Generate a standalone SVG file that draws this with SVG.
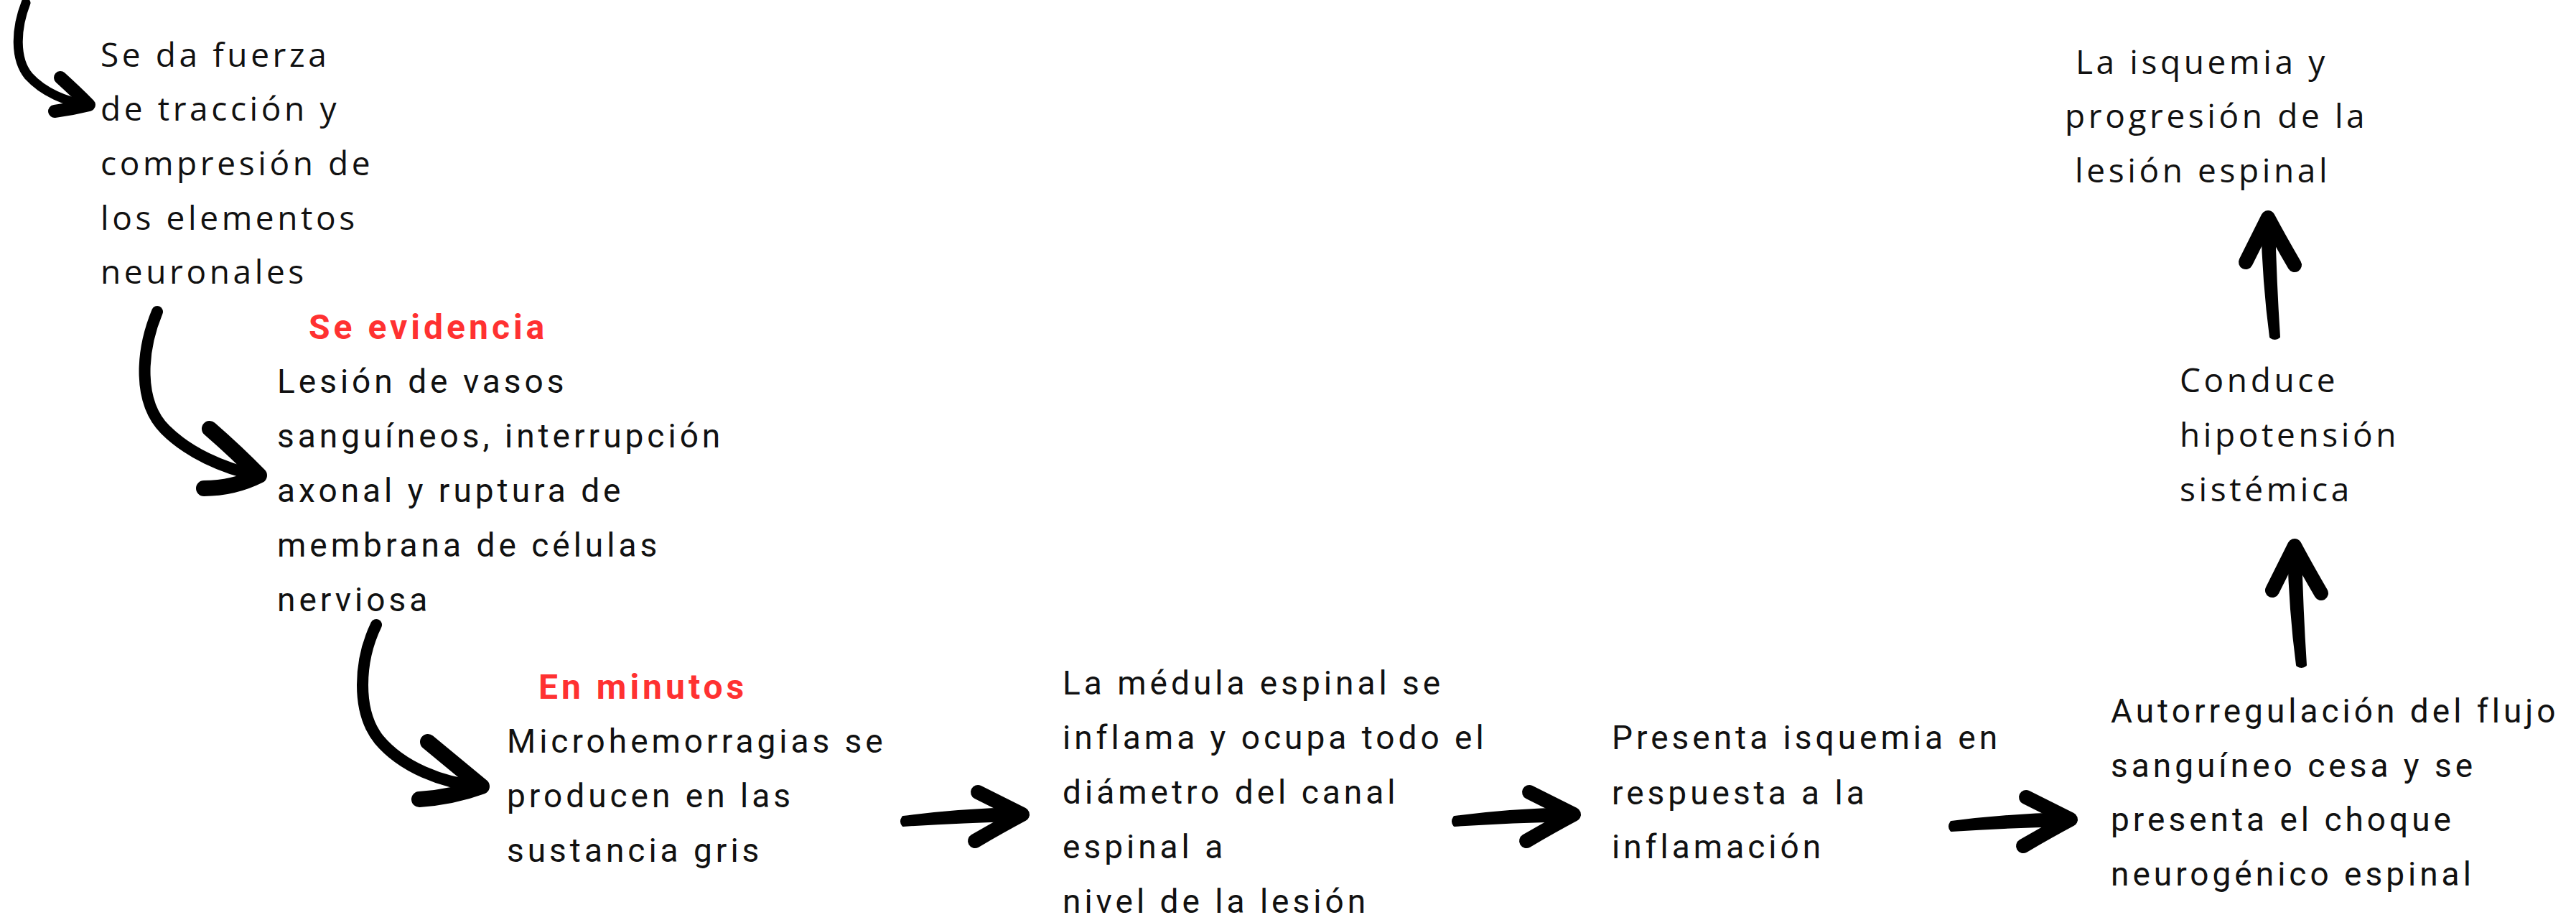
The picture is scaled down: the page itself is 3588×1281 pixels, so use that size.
<svg xmlns="http://www.w3.org/2000/svg" width="3588" height="1281" viewBox="0 0 3588 1281">
<style>
  .geo{font-family:"Open Sans","Liberation Sans",sans-serif;font-size:46px;letter-spacing:4.6px;fill:#111}
  .nar{font-family:Roboto,"Liberation Sans",sans-serif;font-size:46px;letter-spacing:5px;fill:#111}
  .red{font-family:Roboto,"Liberation Sans",sans-serif;font-size:48px;font-weight:bold;letter-spacing:5px;fill:#ff3131}
  .stroke{fill:none;stroke:#000;stroke-linecap:round;stroke-linejoin:round}
  .fill{fill:#000;stroke:#000;stroke-width:4;stroke-linejoin:round}
</style>
<defs>
  <g id="arr">
    <path class="fill" d="M -166 4 Q -90 -6 -6 -8 L -6 8 Q -90 10 -166 15 Q -170 10 -166 4 Z"/>
    <path class="stroke" d="M -62 -31 Q -28 -14 0 0 Q -30 16 -66 37" stroke-width="20"/>
  </g>
</defs>
<rect width="3588" height="1281" fill="#fff"/>
<g id="connectors">
  <path class="stroke" d="M 36 4 C 22 40, 20 82, 40 106 C 60 128, 92 142, 122 146" stroke-width="13"/>
  <path class="stroke" d="M 84 108 Q 106 128 124 146 Q 100 152 76 155" stroke-width="18"/>
  <path class="stroke" d="M 219 434 C 196 490, 192 560, 230 598 C 262 630, 310 652, 358 662" stroke-width="16"/>
  <path class="stroke" d="M 292 597 Q 330 630 361 662 Q 325 680 284 680" stroke-width="22"/>
  <path class="stroke" d="M 524 870 C 500 920, 496 990, 528 1030 C 560 1068, 615 1090, 668 1095" stroke-width="16"/>
  <path class="stroke" d="M 596 1033 Q 636 1066 671 1095 Q 630 1110 584 1113" stroke-width="22"/>
  <use href="#arr" transform="translate(1424,1134)"/>
  <use href="#arr" transform="translate(2192,1134)"/>
  <use href="#arr" transform="translate(2884,1141)"/>
  <use href="#arr" transform="translate(3196,760) rotate(-90)"/>
  <use href="#arr" transform="translate(3159,303) rotate(-90)"/>
</g>
<g id="n1"><text class="geo">
  <tspan x="140" y="93">Se da fuerza</tspan>
  <tspan x="140" y="168">de tracción y</tspan>
  <tspan x="140" y="244">compresión de</tspan>
  <tspan x="140" y="320">los elementos</tspan>
  <tspan x="140" y="395">neuronales</tspan></text></g>
<g id="n2">
  <text class="red" x="430" y="472">Se evidencia</text>
  <text class="nar">
  <tspan x="386" y="547">Lesión de vasos</tspan>
  <tspan x="386" y="623">sanguíneos, interrupción</tspan>
  <tspan x="386" y="699">axonal y ruptura de</tspan>
  <tspan x="386" y="775">membrana de células</tspan>
  <tspan x="386" y="851">nerviosa</tspan></text></g>
<g id="n3">
  <text class="red" x="750" y="973">En minutos</text>
  <text class="nar">
  <tspan x="706" y="1048">Microhemorragias se</tspan>
  <tspan x="706" y="1124">producen en las</tspan>
  <tspan x="706" y="1200">sustancia gris</tspan></text></g>
<g id="n4"><text class="nar">
  <tspan x="1480" y="967">La médula espinal se</tspan>
  <tspan x="1480" y="1043">inflama y ocupa todo el</tspan>
  <tspan x="1480" y="1119">diámetro del canal</tspan>
  <tspan x="1480" y="1195">espinal a</tspan>
  <tspan x="1480" y="1271">nivel de la lesión</tspan></text></g>
<g id="n5"><text class="nar">
  <tspan x="2245" y="1043">Presenta isquemia en</tspan>
  <tspan x="2245" y="1120">respuesta a la</tspan>
  <tspan x="2245" y="1195">inflamación</tspan></text></g>
<g id="n6"><text class="nar">
  <tspan x="2940" y="1006">Autorregulación del flujo</tspan>
  <tspan x="2940" y="1082">sanguíneo cesa y se</tspan>
  <tspan x="2940" y="1157">presenta el choque</tspan>
  <tspan x="2940" y="1233">neurogénico espinal</tspan></text></g>
<g id="n7"><text class="geo">
  <tspan x="3036" y="546">Conduce</tspan>
  <tspan x="3036" y="622">hipotensión</tspan>
  <tspan x="3036" y="698">sistémica</tspan></text></g>
<g id="n8"><text class="geo">
  <tspan x="2891" y="103">La isquemia y</tspan>
  <tspan x="2876" y="178">progresión de la</tspan>
  <tspan x="2890" y="254">lesión espinal</tspan></text></g>
</svg>
